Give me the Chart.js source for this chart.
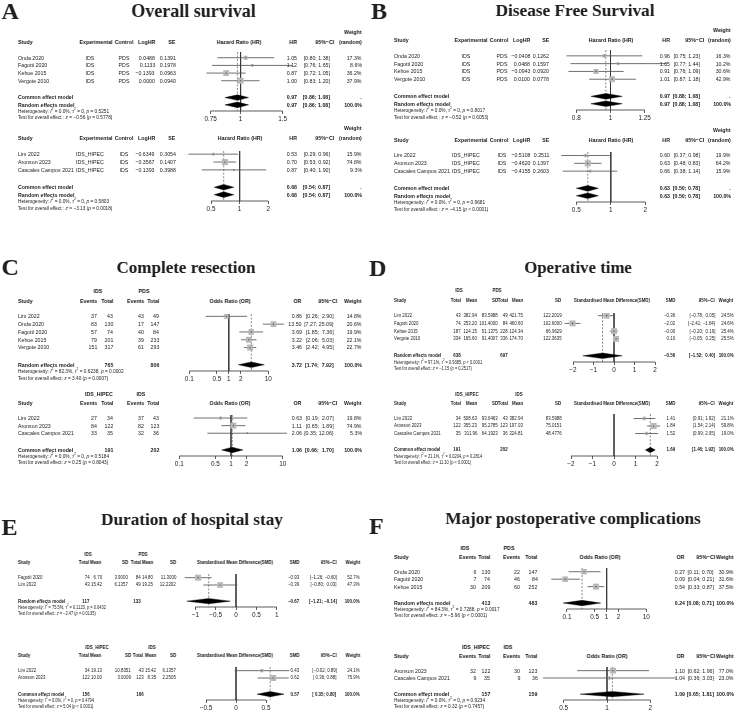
<!DOCTYPE html>
<html><head><meta charset="utf-8"><title>Forest plots</title>
<script src="https://cdn.jsdelivr.net/npm/chart.js@4.4.1/dist/chart.umd.min.js"></script>
<style>
html,body{margin:0;padding:0;background:#fff}
#page{position:relative;width:734px;height:715px;overflow:hidden;background:#fff;filter:grayscale(100%)}
#page canvas{position:absolute}
.t{position:absolute;white-space:pre;line-height:1;color:#1b1b1b}
.t sup{font-size:70%;line-height:0;vertical-align:super}
.ttl{position:absolute;white-space:nowrap;line-height:1;font-family:'Liberation Serif','Times New Roman',serif;font-weight:bold;color:#231f20}
</style></head><body><div id="page"></div><script>
// ================= DATA =================
// Panel A: Overall survival
const osStudy1 = ["Onda 2020","Fagotti 2020","Kehoe 2015","Vergote 2010"];
const osExp1 = ["IDS","IDS","IDS","IDS"];
const osCtl1 = ["PDS","PDS","PDS","PDS"];
const osLogHR1 = [0.0488, 0.1133, -0.1393, 0.0000];
const osSE1 = [0.1391, 0.1978, 0.0963, 0.0940];
const osHR1 = [1.05, 1.12, 0.87, 1.00];
const osLo1 = [0.80, 0.76, 0.72, 0.83];
const osHi1 = [1.38, 1.65, 1.05, 1.20];
const osW1 = [17.3, 8.6, 36.2, 37.9];
const osPool1 = [0.97, 0.86, 1.08];
const osHet1 = ["0.0%", "0", "= 0.5251"];
const osTest1 = ["−0.56", "= 0.5778"];
const osTicks1 = [0.75, 1, 1.5];
const osTickLbl1 = ["0.75", "1", "1.5"];

const osStudy2 = ["Lim 2022","Aronson 2023","Cascales Campos 2021"];
const osExp2 = ["IDS_HIPEC","IDS_HIPEC","IDS_HIPEC"];
const osCtl2 = ["IDS","IDS","IDS"];
const osLogHR2 = [-0.6349, -0.3567, -0.1393];
const osSE2 = [0.3054, 0.1407, 0.3988];
const osHR2 = [0.53, 0.70, 0.87];
const osLo2 = [0.29, 0.53, 0.40];
const osHi2 = [0.96, 0.92, 1.90];
const osW2 = [15.9, 74.8, 9.3];
const osPool2 = [0.68, 0.54, 0.87];
const osHet2 = ["0.0%", "0", "= 0.5803"];
const osTest2 = ["−3.13", "= 0.0018"];
const osTicks2 = [0.5, 1, 2];
const osTickLbl2 = ["0.5", "1", "2"];

// Panel B: Disease free survival
const dfsStudy1 = ["Onda 2020","Fagotti 2020","Kehoe 2015","Vergote 2010"];
const dfsExp1 = ["IDS","IDS","IDS","IDS"];
const dfsCtl1 = ["PDS","PDS","PDS","PDS"];
const dfsLogHR1 = [-0.0408, 0.0488, -0.0943, 0.0100];
const dfsSE1 = [0.1262, 0.1597, 0.0920, 0.0778];
const dfsHR1 = [0.96, 1.05, 0.91, 1.01];
const dfsLo1 = [0.75, 0.77, 0.76, 0.87];
const dfsHi1 = [1.23, 1.44, 1.09, 1.18];
const dfsW1 = [16.3, 10.2, 30.6, 42.9];
const dfsPool1 = [0.97, 0.88, 1.08];
const dfsHet1 = ["0.0%", "0", "= 0.8017"];
const dfsTest1 = ["−0.52", "= 0.6053"];
const dfsTicks1 = [0.8, 1, 1.25];
const dfsTickLbl1 = ["0.8", "1", "1.25"];

const dfsStudy2 = ["Lim 2022","Aronson 2023","Cascales Campos 2021"];
const dfsExp2 = ["IDS_HIPEC","IDS_HIPEC","IDS_HIPEC"];
const dfsCtl2 = ["IDS","IDS","IDS"];
const dfsLogHR2 = [-0.5108, -0.4620, -0.4155];
const dfsSE2 = [0.2511, 0.1397, 0.2603];
const dfsHR2 = [0.60, 0.63, 0.66];
const dfsLo2 = [0.37, 0.48, 0.38];
const dfsHi2 = [0.98, 0.83, 1.14];
const dfsW2 = [19.9, 64.2, 15.9];
const dfsPool2 = [0.63, 0.50, 0.78];
const dfsHet2 = ["0.0%", "0", "= 0.9681"];
const dfsTest2 = ["−4.15", "< 0.0001"];
const dfsTicks2 = [0.5, 1, 2];
const dfsTickLbl2 = ["0.5", "1", "2"];

// Panel C: Complete resection
const crGroups1 = ["IDS", "PDS"];
const crStudy1 = ["Lim 2022","Onda 2020","Fagotti 2020","Kehoe 2015","Vergote 2010"];
const crEvE1 = [37, 83, 57, 79, 151];
const crTotE1 = [43, 130, 74, 201, 317];
const crEvC1 = [43, 17, 40, 39, 61];
const crTotC1 = [49, 147, 84, 233, 293];
const crOR1 = [0.86, 13.50, 3.69, 3.22, 3.46];
const crLo1 = [0.26, 7.27, 1.85, 2.06, 2.42];
const crHi1 = [2.90, 25.09, 7.36, 5.03, 4.95];
const crW1 = [14.8, 20.6, 19.9, 22.1, 22.7];
const crPool1 = [3.72, 1.74, 7.92];
const crSum1 = [765, 806];
const crHet1 = ["82.3%", "0.6238", "= 0.0002"];
const crTest1 = ["3.40", "= 0.0007"];
const crTicks1 = [0.1, 0.5, 1, 2, 10];
const crTickLbl1 = ["0.1", "0.5", "1", "2", "10"];

const crGroups2 = ["IDS_HIPEC", "IDS"];
const crStudy2 = ["Lim 2022","Aronson 2023","Cascales Campos 2021"];
const crEvE2 = [27, 84, 33];
const crTotE2 = [34, 122, 35];
const crEvC2 = [37, 82, 32];
const crTotC2 = [43, 123, 36];
const crOR2 = [0.63, 1.11, 2.06];
const crLo2 = [0.19, 0.65, 0.35];
const crHi2 = [2.07, 1.89, 12.06];
const crW2 = [19.8, 74.9, 5.3];
const crPool2 = [1.06, 0.66, 1.70];
const crSum2 = [191, 202];
const crHet2 = ["0.0%", "0", "= 0.5184"];
const crTest2 = ["0.25", "= 0.8043"];
const crTicks2 = [0.1, 0.5, 1, 2, 10];
const crTickLbl2 = ["0.1", "0.5", "1", "2", "10"];

// Panel D: Operative time
const otGroups1 = ["IDS", "PDS"];
const otStudy1 = ["Lim 2022","Fagotti 2020","Kehoe 2015","Vergote 2010"];
const otNE1 = [43, 74, 187, 334];
const otMeanE1 = [382.94, 253.20, 124.15, 165.60];
const otSdE1 = [83.5988, 101.4000, 51.1375, 91.4007];
const otNC1 = [49, 84, 228, 336];
const otMeanC1 = [421.75, 460.60, 124.34, 174.70];
const otSdC1 = [122.2019, 102.6000, 66.9629, 122.3635];
const otSMD1 = [-0.36, -2.02, -0.00, 0.10];
const otLo1 = [-0.78, -2.41, -0.20, -0.05];
const otHi1 = [0.05, -1.64, 0.19, 0.25];
const otW1 = [24.5, 24.6, 25.4, 25.5];
const otPool1 = [-0.56, -1.52, 0.40];
const otSum1 = [638, 697];
const otHet1 = ["97.1%", "0.9385", "< 0.0001"];
const otTest1 = ["−1.15", "= 0.2517"];
const otTicks1 = [-2, -1, 0, 1, 2];
const otTickLbl1 = ["−2", "−1", "0", "1", "2"];

const otGroups2 = ["IDS_HIPEC", "IDS"];
const otStudy2 = ["Lim 2022","Aronson 2023","Cascales Campos 2021"];
const otNE2 = [34, 122, 35];
const otMeanE2 = [508.63, 355.23, 311.96];
const otSdE2 = [93.6463, 95.2785, 64.1923];
const otNC2 = [43, 123, 36];
const otMeanC2 = [382.94, 197.03, 224.81];
const otSdC2 = [83.5988, 75.0151, 48.4776];
const otSMD2 = [1.41, 1.84, 1.52];
const otLo2 = [0.91, 1.54, 0.99];
const otHi2 = [1.92, 2.14, 2.05];
const otW2 = [21.1, 59.8, 19.0];
const otPool2 = [1.69, 1.46, 1.92];
const otSum2 = [191, 202];
const otHet2 = ["21.1%", "0.0204", "= 0.2814"];
const otTest2 = ["11.10", "< 0.0001"];
const otTicks2 = [-2, -1, 0, 1, 2];
const otTickLbl2 = ["−2", "−1", "0", "1", "2"];

// Panel E: Duration of hospital stay
const hsGroups1 = ["IDS", "PDS"];
const hsStudy1 = ["Fagotti 2020","Lim 2022"];
const hsNE1 = [74, 43];
const hsMeanE1 = [6.70, 15.42];
const hsSdE1 = [3.9000, 6.1357];
const hsNC1 = [84, 49];
const hsMeanC1 = [14.80, 19.25];
const hsSdC1 = [11.3000, 12.2202];
const hsSMD1 = [-0.93, -0.39];
const hsLo1 = [-1.26, -0.80];
const hsHi1 = [-0.60, 0.03];
const hsW1 = [52.7, 47.3];
const hsPool1 = [-0.67, -1.21, -0.14];
const hsSum1 = [117, 133];
const hsHet1 = ["75.5%", "0.1123", "= 0.0432"];
const hsTest1 = ["−2.47", "= 0.0135"];
const hsTicks1 = [-1, -0.5, 0, 0.5, 1];
const hsTickLbl1 = ["−1", "−0.5", "0", "0.5", "1"];

const hsGroups2 = ["IDS_HIPEC", "IDS"];
const hsStudy2 = ["Lim 2022","Aronson 2023"];
const hsNE2 = [34, 122];
const hsMeanE2 = [19.13, 10.00];
const hsSdE2 = [10.8351, 3.0009];
const hsNC2 = [43, 123];
const hsMeanC2 = [15.42, 8.35];
const hsSdC2 = [6.1357, 2.2505];
const hsSMD2 = [0.43, 0.62];
const hsLo2 = [-0.02, 0.36];
const hsHi2 = [0.89, 0.88];
const hsW2 = [24.1, 75.9];
const hsPool2 = [0.57, 0.35, 0.80];
const hsSum2 = [156, 166];
const hsHet2 = ["0.0%", "0", "= 0.4794"];
const hsTest2 = ["5.04", "< 0.0001"];
const hsTicks2 = [-0.5, 0, 0.5];
const hsTickLbl2 = ["−0.5", "0", "0.5"];

// Panel F: Major postoperative complications
const mcGroups1 = ["IDS", "PDS"];
const mcStudy1 = ["Onda 2020","Fagotti 2020","Kehoe 2015"];
const mcEvE1 = [6, 7, 30];
const mcTotE1 = [130, 74, 209];
const mcEvC1 = [22, 46, 60];
const mcTotC1 = [147, 84, 252];
const mcOR1 = [0.27, 0.09, 0.54];
const mcLo1 = [0.11, 0.04, 0.33];
const mcHi1 = [0.70, 0.21, 0.87];
const mcW1 = [30.9, 31.6, 37.5];
const mcPool1 = [0.24, 0.08, 0.71];
const mcSum1 = [413, 483];
const mcHet1 = ["84.3%", "0.7288", "= 0.0017"];
const mcTest1 = ["−5.96", "< 0.0001"];
const mcTicks1 = [0.1, 0.5, 1, 2, 10];
const mcTickLbl1 = ["0.1", "0.5", "1", "2", "10"];

const mcGroups2 = ["IDS_HIPEC", "IDS"];
const mcStudy2 = ["Aronson 2023","Cascales Campos 2021"];
const mcEvE2 = [32, 9];
const mcTotE2 = [122, 35];
const mcEvC2 = [30, 9];
const mcTotC2 = [123, 36];
const mcOR2 = [1.10, 1.04];
const mcLo2 = [0.62, 0.36];
const mcHi2 = [1.96, 3.03];
const mcW2 = [77.0, 23.0];
const mcPool2 = [1.09, 0.65, 1.81];
const mcSum2 = [157, 159];
const mcHet2 = ["0.0%", "0", "= 0.9234"];
const mcTest2 = ["0.32", "= 0.7457"];
const mcTicks2 = [0.5, 1, 2];
const mcTickLbl2 = ["0.5", "1", "2"];

const panelLetters = ["A","B","C","D","E","F"];
const panelTitles = ["Overall survival","Disease Free Survival","Complete resection","Operative time","Duration of hospital stay","Major postoperative complications"];

// ================= LAYOUT / RENDER =================
const PAGE_W = 734, PANEL_W = 367, AXH = 14;
const TICK_FS = 6.4;
let FAM = "'Liberation Sans Narrow','Arial Narrow',sans-serif", SX = 1;
(() => {
  const c = document.createElement('canvas').getContext('2d');
  const s = 'Cascales Campos 2021 Experimental';
  c.font = '40px monospace'; const a = c.measureText(s).width;
  c.font = "40px 'Liberation Sans Narrow', monospace"; const b = c.measureText(s).width;
  if (Math.abs(a - b) < 0.5) { FAM = "'Liberation Sans',Arial,sans-serif"; SX = 0.85; }
})();
const page = document.getElementById('page');

function txt(x, y, html, align, o = {}) {
  const d = document.createElement('div');
  d.className = 't';
  const size = o.size || 6.2;
  d.style.fontSize = size + 'px';
  d.style.fontFamily = FAM;
  if (o.bold) d.style.fontWeight = 'bold';
  d.style.top = (y - size * 0.5) + 'px';
  let tf = '';
  if (align === 'r') { d.style.right = (PAGE_W - x) + 'px'; d.style.transformOrigin = '100% 50%'; }
  else if (align === 'c') { d.style.left = x + 'px'; tf = 'translateX(-50%) '; }
  else { d.style.left = x + 'px'; d.style.transformOrigin = '0 50%'; }
  if (SX !== 1) tf += 'scaleX(' + SX + ')';
  if (tf) d.style.transform = tf;
  d.innerHTML = html;
  page.appendChild(d);
}
const sgn = (v, d) => (v < 0 || Object.is(v, -0)) ? '−' + Math.abs(v).toFixed(d) : v.toFixed(d);
const pct = v => v.toFixed(1) + '%';
function ciStr(lo, hi) {
  const L = lo.map(v => sgn(v, 2)), H = hi.map(v => sgn(v, 2));
  const wl = Math.max(...L.map(s => s.length)), wh = Math.max(...H.map(s => s.length));
  return L.map((l, i) => '[' + l.padStart(wl) + '; ' + H[i].padStart(wh) + ']');
}

function forest(c) {
  const n = c.est.length;
  const fs = c.fs || 6.2;
  const top = (c.top !== undefined) ? c.top : -0.5;
  const sumRows = c.pooled.map((p, j) => n + 1.2 + 0.95 * j);
  const lastSum = sumRows[sumRows.length - 1];
  const axisRow = lastSum + 0.8;
  const hetRow = lastSum + 0.9, testRow = hetRow + 0.85;
  const cTop = Math.round(c.y0 + top * c.pitch);
  const H = Math.round((axisRow - top) * c.pitch + AXH);
  const cv = document.createElement('canvas');
  cv.width = PANEL_W; cv.height = H;
  cv.style.left = c.px + 'px'; cv.style.top = cTop + 'px';
  cv.style.width = PANEL_W + 'px'; cv.style.height = H + 'px';
  page.appendChild(cv);

  const log = c.axis.type === 'logarithmic';
  const f = v => log ? Math.log10(v) : v, fi = v => log ? Math.pow(10, v) : v;
  const tk = c.axis.ticks;
  const a = f(tk[0]), b = f(tk[tk.length - 1]);
  const k = (b - a) / (c.axis.p2 - c.axis.p1);
  const xmin = fi(a - c.axis.p1 * k), xmax = fi(a + (PANEL_W - c.axis.p1) * k);

  const ds = [];
  ds.push({type: 'line', order: 6, data: [{x: c.nullVal, y: top}, {x: c.nullVal, y: axisRow}],
    borderColor: '#333', borderWidth: 0.8, pointRadius: 0, clip: false});
  ds.push({type: 'line', order: 5, data: [{x: c.pooled[0][0], y: top}, {x: c.pooled[0][0], y: axisRow}],
    borderColor: '#555', borderWidth: 0.7, borderDash: [2, 1.6], pointRadius: 0, clip: false});
  c.est.forEach((e, i) => ds.push({type: 'line', order: 4,
    data: [{x: c.lo[i], y: i}, {x: c.hi[i], y: i}], borderColor: '#4a4a4a', borderWidth: 0.8, pointRadius: 0, clip: false}));
  const wmax = Math.max(...c.w);
  ds.push({type: 'scatter', order: 1, data: c.est.map((e, i) => ({x: e, y: i})), pointStyle: 'rect',
    pointRadius: c.w.map(w => Math.max(1.0, 6 * Math.sqrt(w / wmax) / 1.414)),
    backgroundColor: '#b8b8b8', borderWidth: 0, clip: false});
  ds.push({type: 'scatter', order: 0, data: c.est.map((e, i) => ({x: e, y: i})), pointStyle: 'circle',
    pointRadius: 0.6, backgroundColor: '#333', borderWidth: 0, clip: false});
  c.pooled.forEach((p, j) => {
    const r = sumRows[j], h = 0.36;
    ds.push({type: 'line', order: 2, fill: 'shape',
      data: [{x: p[1], y: r}, {x: p[0], y: r - h}, {x: p[2], y: r}, {x: p[0], y: r + h}, {x: p[1], y: r}],
      backgroundColor: '#000', borderColor: '#000', borderWidth: 0.4, pointRadius: 0, tension: 0, clip: false});
  });
  ds.push({type: 'line', order: 3, data: [{x: tk[0], y: axisRow}, {x: tk[tk.length - 1], y: axisRow}],
    borderColor: '#333', borderWidth: 0.8, pointRadius: 0, clip: false});

  const chart = new Chart(cv, {
    type: 'scatter',
    data: {datasets: ds},
    options: {
      responsive: false, maintainAspectRatio: false, animation: false, devicePixelRatio: 1, events: [],
      layout: {padding: 0, autoPadding: false},
      plugins: {legend: {display: false}, tooltip: {enabled: false}},
      scales: {
        x: {type: c.axis.type, min: xmin, max: xmax, bounds: 'data', position: 'bottom',
          afterBuildTicks: s => { s.ticks = tk.map(v => ({value: v})); },
          afterFit: s => { s.height = AXH; s.paddingLeft = 0; s.paddingRight = 0; },
          ticks: {autoSkip: false, maxRotation: 0, minRotation: 0, padding: 1.5, color: '#222',
            font: {family: "'Liberation Sans',Arial,sans-serif", size: TICK_FS},
            callback: (v, i) => c.axis.labels[i]},
          grid: {display: true, drawOnChartArea: false, drawTicks: true, tickLength: 3, color: '#333', lineWidth: 0.8},
          border: {display: false}},
        y: {type: 'linear', reverse: true, min: top, max: axisRow, display: false}
      }
    }
  });

  const ys = chart.scales.y;
  const Y = r => cTop + ys.getPixelForValue(r);
  c.heads.forEach(h => txt(c.px + h.x, Y(h.row), h.text, h.a, {bold: true, size: fs}));
  c.cols.forEach(col => {
    col.vals.forEach((v, i) => txt(c.px + col.x, Y(i), String(v), col.a, {size: fs}));
    (col.sums || []).forEach((v, j) => { if (v !== '') txt(c.px + col.x, Y(sumRows[j]), String(v), col.a, {bold: true, size: fs}); });
  });
  const h = c.het, t = c.test;
  txt(c.px + c.studyX, Y(hetRow), `Heterogeneity: <i>I</i><sup>2</sup> = ${h[0]}, <i>τ</i><sup>2</sup> = ${h[1]}, <i>p</i> ${h[2]}`, 'l', {size: fs * 0.9});
  txt(c.px + c.studyX, Y(testRow), `Test for overall effect${c.testSep}: <i>z</i> = ${t[0]} (<i>p</i> ${t[1]})`, 'l', {size: fs * 0.9});
}

function hrForest(p) {
  const L = p.L, n = p.est.length;
  const ci = ciStr(p.lo.concat([p.pool[1], p.pool[1]]), p.hi.concat([p.pool[2], p.pool[2]]));
  forest({px: p.px, y0: p.y0, pitch: p.pitch, top: p.top, studyX: L.study, fs: p.fs,
    est: p.est, lo: p.lo, hi: p.hi, w: p.w, pooled: [p.pool, p.pool], nullVal: 1,
    axis: {type: 'logarithmic', ticks: p.ticks, labels: p.tickLbl, p1: p.p1, p2: p.p2},
    heads: [
      {row: -3.3, x: L.w, a: 'r', text: 'Weight'},
      {row: -2, x: L.study, a: 'l', text: 'Study'},
      {row: -2, x: L.expH, a: 'c', text: 'Experimental'},
      {row: -2, x: L.ctlH, a: 'c', text: 'Control'},
      {row: -2, x: L.loghr, a: 'r', text: 'LogHR'},
      {row: -2, x: L.se, a: 'r', text: 'SE'},
      {row: -2, x: p.gx, a: 'c', text: 'Hazard Ratio (HR)'},
      {row: -2, x: L.est, a: 'r', text: 'HR'},
      {row: -2, x: L.ciH, a: 'r', text: '95%−CI'},
      {row: -2, x: L.w, a: 'r', text: '(random)'}],
    cols: [
      {x: L.study, a: 'l', vals: p.study, sums: ['Common effect model', 'Random effects model']},
      {x: L.expV, a: 'c', vals: p.exp},
      {x: L.ctlV, a: 'c', vals: p.ctl},
      {x: L.loghr, a: 'r', vals: p.logHR.map(v => sgn(v, 4))},
      {x: L.se, a: 'r', vals: p.se.map(v => sgn(v, 4))},
      {x: L.est, a: 'r', vals: p.est.map(v => sgn(v, 2)), sums: [sgn(p.pool[0], 2), sgn(p.pool[0], 2)]},
      {x: L.ciV, a: 'r', vals: ci.slice(0, n), sums: ci.slice(n)},
      {x: L.w, a: 'r', vals: p.w.map(pct), sums: ['.', '100.0%']}],
    het: p.het, test: p.test, testSep: ' '});
}

function binForest(p) {
  const L = p.L, n = p.est.length;
  const ci = ciStr(p.lo.concat([p.pool[1]]), p.hi.concat([p.pool[2]]));
  forest({px: p.px, y0: p.y0, pitch: p.pitch, top: p.top, studyX: L.study, fs: p.fs,
    est: p.est, lo: p.lo, hi: p.hi, w: p.w, pooled: [p.pool], nullVal: 1,
    axis: {type: 'logarithmic', ticks: p.ticks, labels: p.tickLbl, p1: p.p1, p2: p.p2},
    heads: [
      {row: -3.2, x: p.g1, a: 'c', text: p.groups[0]},
      {row: -3.2, x: p.g2, a: 'c', text: p.groups[1]},
      {row: -2, x: L.study, a: 'l', text: 'Study'},
      {row: -2, x: L.ev1, a: 'r', text: 'Events'},
      {row: -2, x: L.tot1, a: 'r', text: 'Total'},
      {row: -2, x: L.ev2, a: 'r', text: 'Events'},
      {row: -2, x: L.tot2, a: 'r', text: 'Total'},
      {row: -2, x: p.gx, a: 'c', text: 'Odds Ratio (OR)'},
      {row: -2, x: L.est, a: 'r', text: 'OR'},
      {row: -2, x: L.ciH, a: 'r', text: '95%−CI'},
      {row: -2, x: L.w, a: 'r', text: 'Weight'}],
    cols: [
      {x: L.study, a: 'l', vals: p.study, sums: [p.model]},
      {x: L.ev1, a: 'r', vals: p.evE},
      {x: L.tot1, a: 'r', vals: p.totE, sums: [p.sums[0]]},
      {x: L.ev2, a: 'r', vals: p.evC},
      {x: L.tot2, a: 'r', vals: p.totC, sums: [p.sums[1]]},
      {x: L.est, a: 'r', vals: p.est.map(v => sgn(v, 2)), sums: [sgn(p.pool[0], 2)]},
      {x: L.ciV, a: 'r', vals: ci.slice(0, n), sums: ci.slice(n)},
      {x: L.w, a: 'r', vals: p.w.map(pct), sums: ['100.0%']}],
    het: p.het, test: p.test, testSep: ''});
}

function contForest(p) {
  const L = p.L, n = p.est.length;
  const ci = ciStr(p.lo.concat([p.pool[1]]), p.hi.concat([p.pool[2]]));
  forest({px: p.px, y0: p.y0, pitch: p.pitch, top: p.top, studyX: L.study, fs: p.fs,
    est: p.est, lo: p.lo, hi: p.hi, w: p.w, pooled: [p.pool], nullVal: 0,
    axis: {type: 'linear', ticks: p.ticks, labels: p.tickLbl, p1: p.p1, p2: p.p2},
    heads: [
      {row: -3.2, x: p.g1, a: 'c', text: p.groups[0]},
      {row: -3.2, x: p.g2, a: 'c', text: p.groups[1]},
      {row: -2, x: L.study, a: 'l', text: 'Study'},
      {row: -2, x: L.n1, a: 'r', text: 'Total'},
      {row: -2, x: L.m1, a: 'r', text: 'Mean'},
      {row: -2, x: L.s1, a: 'r', text: 'SD'},
      {row: -2, x: L.n2, a: 'r', text: 'Total'},
      {row: -2, x: L.m2, a: 'r', text: 'Mean'},
      {row: -2, x: L.s2, a: 'r', text: 'SD'},
      {row: -2, x: p.gx, a: 'c', text: 'Standardised Mean Difference(SMD)'},
      {row: -2, x: L.est, a: 'r', text: 'SMD'},
      {row: -2, x: L.ciH, a: 'r', text: '95%−CI'},
      {row: -2, x: L.w, a: 'r', text: 'Weight'}],
    cols: [
      {x: L.study, a: 'l', vals: p.study, sums: [p.model]},
      {x: L.n1, a: 'r', vals: p.nE, sums: [p.sums[0]]},
      {x: L.m1, a: 'r', vals: p.mE.map(v => v.toFixed(2))},
      {x: L.s1, a: 'r', vals: p.sE.map(v => v.toFixed(4))},
      {x: L.n2, a: 'r', vals: p.nC, sums: [p.sums[1]]},
      {x: L.m2, a: 'r', vals: p.mC.map(v => v.toFixed(2))},
      {x: L.s2, a: 'r', vals: p.sC.map(v => v.toFixed(4))},
      {x: L.est, a: 'r', vals: p.est.map(v => sgn(v, 2)), sums: [sgn(p.pool[0], 2)]},
      {x: L.ciV, a: 'r', vals: ci.slice(0, n), sums: ci.slice(n)},
      {x: L.w, a: 'r', vals: p.w.map(pct), sums: ['100.0%']}],
    het: p.het, test: p.test, testSep: ''});
}

// column layouts (panel-relative x)
const LAY_A = {study: 18, expH: 95.5, expV: 90, ctlH: 123.5, ctlV: 124, loghr: 155, se: 175.5, est: 297, ciH: 334, ciV: 329.5, w: 362};
const LAY_B = {study: 27.3, expH: 104, expV: 99, ctlH: 132, ctlV: 134.5, loghr: 163.3, se: 182, est: 302.7, ciH: 337, ciV: 333, w: 364};
const LAY_C = {study: 18.3, ev1: 97, tot1: 113.3, ev2: 144, tot2: 159.3, est: 301.7, ciH: 337, ciV: 333.3, w: 362};
const LAY_D = {study: 27.3, n1: 93.8, m1: 110, s1: 131, n2: 140.8, m2: 156, s2: 194.3, est: 308.3, ciH: 348, ciV: 348, w: 366.5};
const LAY_E1 = {study: 18.3, n1: 89.5, m1: 101.7, s1: 128.3, n2: 140.6, m2: 153.3, s2: 176, est: 299.3, ciH: 336.7, ciV: 336.7, w: 360};
const LAY_E2 = {study: 18.3, n1: 89.5, m1: 101.7, s1: 131, n2: 143.3, m2: 156, s2: 176, est: 299.3, ciH: 336.7, ciV: 336.7, w: 360};
const LAY_F = {study: 27.3, ev1: 109.3, tot1: 123.3, ev2: 153.3, tot2: 170.7, est: 317.7, ciH: 348, ciV: 347, w: 366.5};
const FS_ABCF = 6.2, FS_DE = 5.2;

// Titles
const letterXY = [[1.5, 11.3], [371, 10.5], [1.5, 266.5], [369, 267.5], [1.5, 527], [369, 525.5]];
const titleXY = [[193.5, 11], [575, 11], [186, 267.5], [578, 268], [192, 520], [573, 519]];
const titleSize = [18, 17.3, 17, 16.8, 17.2, 17.2];
panelLetters.forEach((l, i) => {
  const d = document.createElement('div'); d.className = 'ttl';
  d.style.fontSize = '24px'; d.style.left = letterXY[i][0] + 'px'; d.style.top = (letterXY[i][1] - 12) + 'px';
  d.textContent = l; page.appendChild(d);
  const t = document.createElement('div'); t.className = 'ttl';
  t.style.fontSize = titleSize[i] + 'px'; t.style.left = titleXY[i][0] + 'px'; t.style.top = (titleXY[i][1] - titleSize[i] / 2) + 'px';
  t.style.transform = 'translateX(-50%)'; t.textContent = panelTitles[i]; page.appendChild(t);
});

// A
hrForest({px: 0, y0: 57.3, pitch: 7.6, top: -0.75, fs: FS_ABCF, L: LAY_A, study: osStudy1, exp: osExp1, ctl: osCtl1, logHR: osLogHR1, se: osSE1,
  est: osHR1, lo: osLo1, hi: osHi1, w: osW1, pool: osPool1, het: osHet1, test: osTest1, ticks: osTicks1, tickLbl: osTickLbl1, p1: 210.7, p2: 282.7, gx: 239});
hrForest({px: 0, y0: 154.5, pitch: 7.8, top: -0.4, fs: FS_ABCF, L: LAY_A, study: osStudy2, exp: osExp2, ctl: osCtl2, logHR: osLogHR2, se: osSE2,
  est: osHR2, lo: osLo2, hi: osHi2, w: osW2, pool: osPool2, het: osHet2, test: osTest2, ticks: osTicks2, tickLbl: osTickLbl2, p1: 211, p2: 268.3, gx: 240});
// B
hrForest({px: 367, y0: 56, pitch: 7.75, top: -0.75, fs: FS_ABCF, L: LAY_B, study: dfsStudy1, exp: dfsExp1, ctl: dfsCtl1, logHR: dfsLogHR1, se: dfsSE1,
  est: dfsHR1, lo: dfsLo1, hi: dfsHi1, w: dfsW1, pool: dfsPool1, het: dfsHet1, test: dfsTest1, ticks: dfsTicks1, tickLbl: dfsTickLbl1, p1: 209.3, p2: 277.7, gx: 244});
hrForest({px: 367, y0: 155.3, pitch: 7.8, top: -0.45, fs: FS_ABCF, L: LAY_B, study: dfsStudy2, exp: dfsExp2, ctl: dfsCtl2, logHR: dfsLogHR2, se: dfsSE2,
  est: dfsHR2, lo: dfsLo2, hi: dfsHi2, w: dfsW2, pool: dfsPool2, het: dfsHet2, test: dfsTest2, ticks: dfsTicks2, tickLbl: dfsTickLbl2, p1: 209.3, p2: 278.3, gx: 244});
// C
binForest({px: 0, y0: 316, pitch: 7.8, top: -0.3, fs: FS_ABCF, L: LAY_C, groups: crGroups1, g1: 98, g2: 144, study: crStudy1, evE: crEvE1, totE: crTotE1, evC: crEvC1, totC: crTotC1,
  est: crOR1, lo: crLo1, hi: crHi1, w: crW1, pool: crPool1, sums: crSum1, model: 'Random effects model', het: crHet1, test: crTest1,
  ticks: crTicks1, tickLbl: crTickLbl1, p1: 189.3, p2: 268.3, gx: 229.5});
binForest({px: 0, y0: 418.3, pitch: 7.5, top: -0.4, fs: FS_ABCF, L: LAY_C, groups: crGroups2, g1: 99, g2: 141, study: crStudy2, evE: crEvE2, totE: crTotE2, evC: crEvC2, totC: crTotC2,
  est: crOR2, lo: crLo2, hi: crHi2, w: crW2, pool: crPool2, sums: crSum2, model: 'Common effect model', het: crHet2, test: crTest2,
  ticks: crTicks2, tickLbl: crTickLbl2, p1: 179.3, p2: 282.7, gx: 230});
// D
contForest({px: 367, y0: 316, pitch: 7.77, top: -0.35, fs: FS_DE, L: LAY_D, groups: otGroups1, g1: 91.5, g2: 129.5, study: otStudy1, nE: otNE1, mE: otMeanE1, sE: otSdE1, nC: otNC1, mC: otMeanC1, sC: otSdC1,
  est: otSMD1, lo: otLo1, hi: otHi1, w: otW1, pool: otPool1, sums: otSum1, model: 'Random effects model', het: otHet1, test: otTest1,
  ticks: otTicks1, tickLbl: otTickLbl1, p1: 206, p2: 288, gx: 245});
contForest({px: 367, y0: 418.3, pitch: 7.5, top: -0.6, fs: FS_DE, L: LAY_D, groups: otGroups2, g1: 100, g2: 151.5, study: otStudy2, nE: otNE2, mE: otMeanE2, sE: otSdE2, nC: otNC2, mC: otMeanC2, sC: otSdC2,
  est: otSMD2, lo: otLo2, hi: otHi2, w: otW2, pool: otPool2, sums: otSum2, model: 'Common effect model', het: otHet2, test: otTest2,
  ticks: otTicks2, tickLbl: otTickLbl2, p1: 204, p2: 290, gx: 245});
// E
contForest({px: 0, y0: 577.5, pitch: 7.4, top: -0.5, fs: FS_DE, L: LAY_E1, groups: hsGroups1, g1: 88, g2: 142.5, study: hsStudy1, nE: hsNE1, mE: hsMeanE1, sE: hsSdE1, nC: hsNC1, mC: hsMeanC1, sC: hsSdC1,
  est: hsSMD1, lo: hsLo1, hi: hsHi1, w: hsW1, pool: hsPool1, sums: hsSum1, model: 'Random effects model', het: hsHet1, test: hsTest1,
  ticks: hsTicks1, tickLbl: hsTickLbl1, p1: 195.3, p2: 276.7, gx: 235});
contForest({px: 0, y0: 671, pitch: 7.3, top: -0.5, fs: FS_DE, L: LAY_E2, groups: hsGroups2, g1: 97, g2: 152, study: hsStudy2, nE: hsNE2, mE: hsMeanE2, sE: hsSdE2, nC: hsNC2, mC: hsMeanC2, sC: hsSdC2,
  est: hsSMD2, lo: hsLo2, hi: hsHi2, w: hsW2, pool: hsPool2, sums: hsSum2, model: 'Common effect model', het: hsHet2, test: hsTest2,
  ticks: hsTicks2, tickLbl: hsTickLbl2, p1: 206, p2: 266, gx: 235});
// F
binForest({px: 367, y0: 572, pitch: 7.4, top: -0.5, fs: FS_ABCF, L: LAY_F, groups: mcGroups1, g1: 98, g2: 142, study: mcStudy1, evE: mcEvE1, totE: mcTotE1, evC: mcEvC1, totC: mcTotC1,
  est: mcOR1, lo: mcLo1, hi: mcHi1, w: mcW1, pool: mcPool1, sums: mcSum1, model: 'Random effects model', het: mcHet1, test: mcTest1,
  ticks: mcTicks1, tickLbl: mcTickLbl1, p1: 200, p2: 279.3, gx: 233.3});
binForest({px: 367, y0: 671, pitch: 7.3, top: -0.5, fs: FS_ABCF, L: LAY_F, groups: mcGroups2, g1: 109, g2: 141, study: mcStudy2, evE: mcEvE2, totE: mcTotE2, evC: mcEvC2, totC: mcTotC2,
  est: mcOR2, lo: mcLo2, hi: mcHi2, w: mcW2, pool: mcPool2, sums: mcSum2, model: 'Common effect model', het: mcHet2, test: mcTest2,
  ticks: mcTicks2, tickLbl: mcTickLbl2, p1: 196.7, p2: 283.3, gx: 240});
</script></body></html>
